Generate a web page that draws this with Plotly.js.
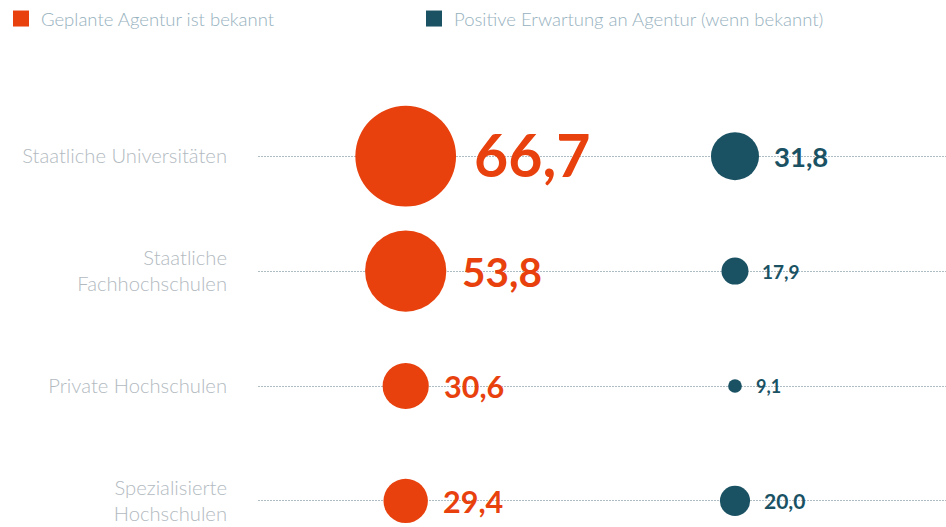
<!DOCTYPE html>
<html>
<head>
<meta charset="utf-8">
<script src="https://cdn.plot.ly/plotly-3.0.1.min.js"></script>
<style>html,body{margin:0;padding:0;background:#fff;}#chart{width:946px;height:527px;}</style>
</head>
<body>
<div id="chart"></div>
<script>
// ---- data ----
const categories = ['Staatliche Universitäten', 'Staatliche<br>Fachhochschulen', 'Private Hochschulen', 'Spezialisierte<br>Hochschulen'];
const seriesNames = ['Geplante Agentur ist bekannt', 'Positive Erwartung an Agentur (wenn bekannt)'];
const knownValues = [66.7, 53.8, 30.6, 29.4];
const positiveValues = [31.8, 17.9, 9.1, 20.0];

// ---- styles ----
const colors = ['#E8410D', '#1A5264'];
const pxPerUnit = 1.51;          // bubble diameter per value unit
function labelSize(v, s) {
  if (s === 0) {
    if (v > 60) return 59;
    if (v > 40) return 40.5;
    return 30.5;
  }
  if (v > 30) return 27.5;
  if (v > 19) return 21;
  if (v > 15) return 19;
  return 18;
}
function fmt(v) { return v.toFixed(1).replace('.', ','); }

const W = 946, H = 527, ML = 258, MT = 60;
const seriesValues = [knownValues, positiveValues];
const traces = [];
const annotations = [];
seriesValues.forEach((vals, s) => {
  traces.push({
    type: 'scatter', mode: 'markers',
    x: categories.map(() => seriesNames[s]),
    y: categories,
    marker: { size: vals, sizemode: 'diameter', sizeref: 1 / pxPerUnit, color: colors[s], opacity: 1, line: { width: 0 } },
    showlegend: false, hoverinfo: 'skip'
  });
  traces.push({
    type: 'scatter', mode: 'markers', name: seriesNames[s],
    x: [null], y: [null],
    marker: { symbol: 'square', size: 16, color: colors[s], opacity: 1 },
    showlegend: true
  });
  vals.forEach((v, i) => {
    const fs = labelSize(v, s);
    annotations.push({
      x: seriesNames[s], y: categories[i], xref: 'x', yref: 'y',
      text: fmt(v), showarrow: false, xanchor: 'left', yanchor: 'middle',
      xshift: v * pxPerUnit / 2 + 10 + 0.1 * fs,
      yshift: fs > 50 ? 2 : 0,
      font: { family: 'Lato', size: fs, color: colors[s], weight: 'bold' }
    });
  });
});

const plotW = W - ML, plotH = H - MT;
const layout = {
  width: W, height: H,
  margin: { l: ML, r: 0, t: MT, b: 0, pad: 0, autoexpand: false },
  paper_bgcolor: '#fff', plot_bgcolor: '#fff',
  showlegend: true,
  legend: {
    orientation: 'h', xref: 'paper', yref: 'paper',
    x: (1 - ML) / plotW, y: 1 + MT / plotH, xanchor: 'left', yanchor: 'top',
    entrywidth: 368, entrywidthmode: 'pixels',
    font: { family: 'Lato', size: 18.5, color: '#96b1be', weight: 300 },
    bgcolor: 'rgba(0,0,0,0)'
  },
  xaxis: {
    type: 'category', categoryorder: 'array', categoryarray: seriesNames,
    range: [-0.4485, 1.6408], visible: false, fixedrange: true
  },
  yaxis: {
    type: 'category', categoryorder: 'array', categoryarray: categories,
    range: [3.227, -0.837],
    showgrid: true, gridcolor: '#aebcc3', griddash: '2px,1px', gridwidth: 1,
    zeroline: false, showline: false, ticks: '',
    ticklabelstandoff: 30,
    tickfont: { family: 'Lato', size: 20.2, color: '#b2babf', weight: 300 },
    fixedrange: true
  },
  annotations: annotations
};

Plotly.newPlot('chart', traces, layout, { displayModeBar: false, staticPlot: true });
</script>
</body>
</html>
